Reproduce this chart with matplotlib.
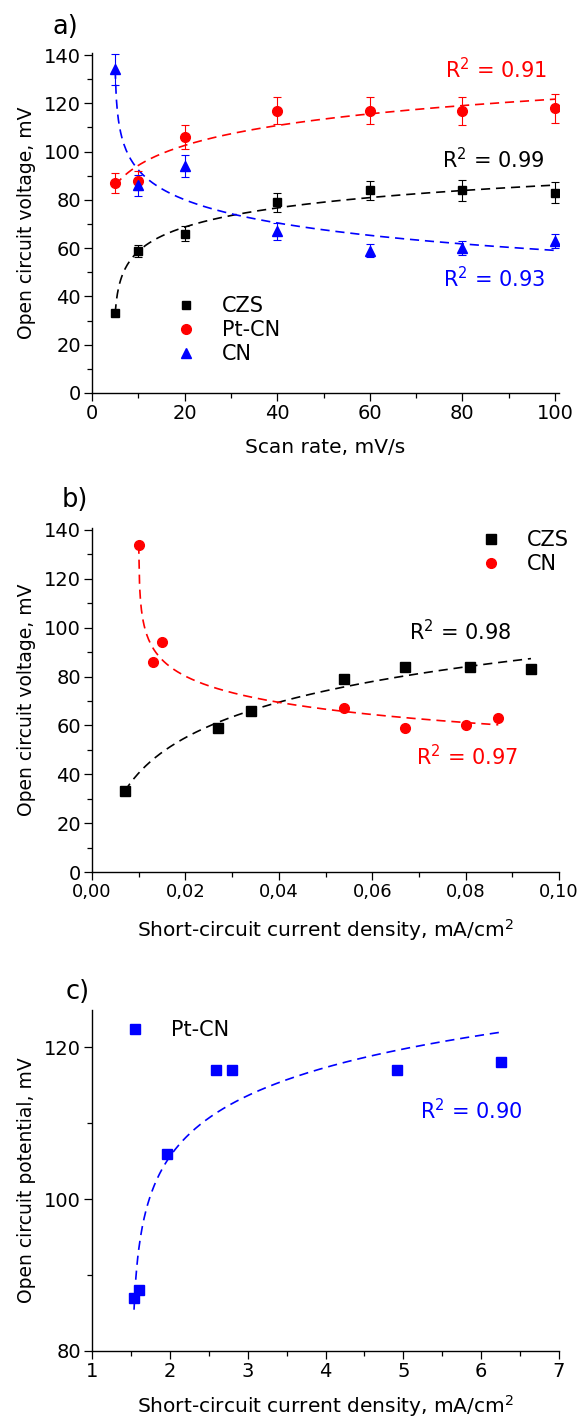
import numpy as np
import matplotlib
matplotlib.use('Agg')
import matplotlib.pyplot as plt
from matplotlib.lines import Line2D
from matplotlib.ticker import MultipleLocator, FuncFormatter

plt.rcParams['font.family'] = ['DejaVu Sans']
plt.rcParams['mathtext.fontset'] = 'dejavusans'

# panel a: OCV vs scan rate
scan_rate = np.array([5, 10, 20, 40, 60, 80, 100])
czs_v = np.array([33, 59, 66, 79, 84, 84, 83])
czs_err = np.array([1, 2.5, 3, 4, 4, 4.3, 4.2])
ptcn_v = np.array([87, 88, 106, 117, 117, 117, 118])
ptcn_err = np.array([4.3, 4, 5, 5.7, 5.7, 5.8, 6])
cn_v = np.array([134, 86, 94, 67, 59, 60, 63])
cn_err = np.array([6.5, 4.5, 4.4, 3.6, 2.8, 3, 3])

# panel b: OCV vs short-circuit current density
czs_j = np.array([0.007, 0.027, 0.034, 0.054, 0.067, 0.081, 0.094])
cn_j = np.array([0.010, 0.013, 0.015, 0.054, 0.067, 0.080, 0.087])

# panel c: Pt-CN
ptcn_j = np.array([1.54, 1.61, 1.96, 2.59, 2.80, 4.92, 6.25])

r2_a = ['0.91', '0.99', '0.93']
r2_b = ['0.98', '0.97']
r2_c = '0.90'

RED = '#ff0000'
BLUE = '#0000ff'
BLACK = '#000000'
R2 = r'R$^{2}$ = '
J_LABEL = r'Short-circuit current density, mA/cm$^{2}$'


def log_fit(x, y, shift=True):
    # least squares y = a + b*ln(x - c), grid over c
    x = np.asarray(x, float)
    y = np.asarray(y, float)
    span = x.max() - x.min()
    cs = x.min() - np.geomspace(1e-4 * span, 3 * span, 800) if shift else [0.0]
    best = None
    for c in cs:
        L = np.log(x - c)
        b, a = np.polyfit(L, y, 1)
        sse = np.sum((a + b * L - y) ** 2)
        if best is None or sse < best[0]:
            best = (sse, a, b, c)
    _, a, b, c = best
    xf = np.linspace(x.min(), x.max(), 400)
    return xf, a + b * np.log(xf - c)


def style(ax):
    for s in ['top', 'right']:
        ax.spines[s].set_visible(False)
    for s in ['left', 'bottom']:
        ax.spines[s].set_linewidth(1.0)
    ax.tick_params(which='major', direction='out', length=6, width=0.9,
                   labelsize=14, pad=2)
    ax.tick_params(which='minor', direction='out', length=3.5, width=0.9)


W, H = 579, 1419
fig = plt.figure(figsize=(W / 100, H / 100), dpi=100)

dash = dict(ls=(0, (5.5, 3.5)), lw=1.2)
fs_x = 14.5
fs_y = 13.5

# ---------- a) ----------
ax = fig.add_axes([92 / W, (H - 393) / H, 467 / W, 340.4 / H])
style(ax)
for y, e, c, m, ms, shift in [(czs_v, czs_err, BLACK, 's', 6, True),
                              (ptcn_v, ptcn_err, RED, 'o', 7, False),
                              (cn_v, cn_err, BLUE, '^', 7.5, True)]:
    ax.errorbar(scan_rate, y, yerr=e, fmt=m, color=c, ms=ms, mec=c,
                elinewidth=0.8, capsize=3, capthick=0.8, zorder=3)
    xf, yf = log_fit(scan_rate, y, shift)
    ax.plot(xf, yf, color=c, **dash, zorder=2)
ax.set_xlim(0, 100.86)
ax.set_ylim(0, 141)
ax.xaxis.set_major_locator(MultipleLocator(20))
ax.xaxis.set_minor_locator(MultipleLocator(10))
ax.yaxis.set_major_locator(MultipleLocator(20))
ax.yaxis.set_minor_locator(MultipleLocator(10))
ax.set_xlabel('Scan rate, mV/s', fontsize=fs_x, va='top')
ax.set_ylabel('Open circuit voltage, mV', fontsize=fs_y)
ax.xaxis.set_label_coords(0.5, -0.133)
ax.yaxis.set_label_coords(-0.12, 0.5)
ax.text(76.2, 133.8, R2 + r2_a[0], color=RED, fontsize=15, va='center')
ax.text(75.6, 96.5, R2 + r2_a[1], color=BLACK, fontsize=15, va='center')
ax.text(75.8, 47.5, R2 + r2_a[2], color=BLUE, fontsize=15, va='center')
hs = [Line2D([], [], ls='none', marker='s', color=BLACK, ms=6),
      Line2D([], [], ls='none', marker='o', color=RED, ms=7),
      Line2D([], [], ls='none', marker='^', color=BLUE, ms=7.5)]
ax.legend(hs, ['CZS', 'Pt-CN', 'CN'], loc='upper left', bbox_to_anchor=(0.18, 0.285),
          frameon=False, fontsize=15, handlelength=1.0, handletextpad=1.2,
          borderpad=0, borderaxespad=0, labelspacing=0.2)

# ---------- b) ----------
ax = fig.add_axes([92 / W, (H - 872) / H, 467 / W, 344 / H])
style(ax)
ax.plot(czs_j, czs_v, 's', color=BLACK, ms=6.5, zorder=3)
ax.plot(cn_j, cn_v, 'o', color=RED, ms=7, zorder=3)
xf, yf = log_fit(czs_j, czs_v, False)
ax.plot(xf, yf, color=BLACK, **dash, zorder=2)
xf, yf = log_fit(cn_j, cn_v, True)
ax.plot(xf, yf, color=RED, **dash, zorder=2)
ax.set_xlim(0, 0.1)
ax.set_ylim(0, 140.8)
ax.xaxis.set_major_locator(MultipleLocator(0.02))
ax.xaxis.set_minor_locator(MultipleLocator(0.01))
ax.xaxis.set_major_formatter(FuncFormatter(lambda v, p: f'{v:.2f}'.replace('.', ',')))
ax.yaxis.set_major_locator(MultipleLocator(20))
ax.yaxis.set_minor_locator(MultipleLocator(10))
ax.tick_params(axis='x', labelsize=13)
ax.set_xlabel(J_LABEL, fontsize=fs_x, va='top')
ax.set_ylabel('Open circuit voltage, mV', fontsize=fs_y)
ax.xaxis.set_label_coords(0.5, -0.13)
ax.yaxis.set_label_coords(-0.12, 0.5)
ax.text(0.0678, 98.4, R2 + r2_b[0], color=BLACK, fontsize=15, va='center')
ax.text(0.0694, 47.2, R2 + r2_b[1], color=RED, fontsize=15, va='center')
hs = [Line2D([], [], ls='none', marker='s', color=BLACK, ms=6.5),
      Line2D([], [], ls='none', marker='o', color=RED, ms=7)]
ax.legend(hs, ['CZS', 'CN'], loc='upper left', bbox_to_anchor=(0.833, 0.994),
          frameon=False, fontsize=15, handlelength=1.0, handletextpad=1.2,
          borderpad=0, borderaxespad=0, labelspacing=0.2)

# ---------- c) ----------
ax = fig.add_axes([92 / W, (H - 1351) / H, 467 / W, 341 / H])
style(ax)
ax.plot(ptcn_j, ptcn_v, 's', color=BLUE, ms=7, zorder=3)
xf, yf = log_fit(ptcn_j, ptcn_v, True)
ax.plot(xf, yf, color=BLUE, **dash, zorder=2)
ax.set_xlim(1, 7)
ax.set_ylim(80, 124.9)
ax.xaxis.set_major_locator(MultipleLocator(1))
ax.xaxis.set_minor_locator(MultipleLocator(0.5))
ax.yaxis.set_major_locator(MultipleLocator(20))
ax.yaxis.set_minor_locator(MultipleLocator(10))
ax.set_xlabel(J_LABEL, fontsize=fs_x, va='top')
ax.set_ylabel('Open circuit potential, mV', fontsize=fs_y)
ax.xaxis.set_label_coords(0.5, -0.122)
ax.yaxis.set_label_coords(-0.12, 0.5)
ax.text(5.213, 111.7, R2 + r2_c, color=BLUE, fontsize=15, va='center')
hs = [Line2D([], [], ls='none', marker='s', color=BLUE, ms=7)]
ax.legend(hs, ['Pt-CN'], loc='upper left', bbox_to_anchor=(0.07, 0.97),
          frameon=False, fontsize=15, handlelength=1.0, handletextpad=1.2,
          borderpad=0, borderaxespad=0)

# panel letters
for lab, x, y in [('a)', 53, 27), ('b)', 62, 500), ('c)', 66, 992)]:
    fig.text(x / W, 1 - y / H, lab, fontsize=18.5, va='center', ha='left')

fig.savefig('out.png', dpi=100)
